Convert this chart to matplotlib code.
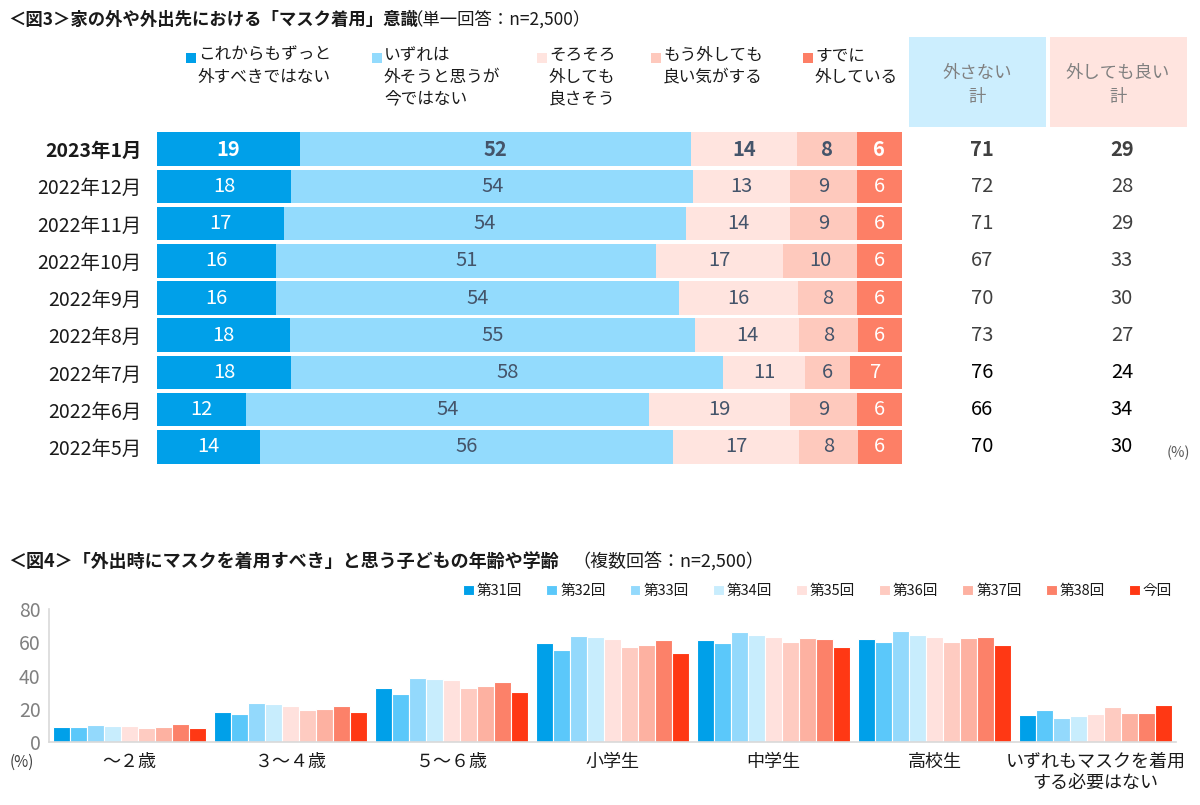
import matplotlib
matplotlib.use('Agg')
import matplotlib.pyplot as plt
from matplotlib.patches import Rectangle
import numpy as np

plt.rcParams['font.family'] = ['Noto Sans CJK JP', 'DejaVu Sans']

# ---------------- data: figure 3 ----------------
months = ['2023年1月', '2022年12月', '2022年11月', '2022年10月', '2022年9月',
          '2022年8月', '2022年7月', '2022年6月', '2022年5月']
s_never = [19, 18, 17, 16, 16, 18, 18, 12, 14]
s_someday = [52, 54, 54, 51, 54, 55, 58, 54, 56]
s_soon = [14, 13, 14, 17, 16, 14, 11, 19, 17]
s_ok = [8, 9, 9, 10, 8, 8, 6, 9, 8]
s_already = [6, 6, 6, 6, 6, 6, 7, 6, 6]
tot_keep = [71, 72, 71, 67, 70, 73, 76, 66, 70]
tot_remove = [29, 28, 29, 33, 30, 27, 24, 34, 30]
series3_names = ['これからもずっと\n外すべきではない', 'いずれは\n外そうと思うが\n今ではない',
                 'そろそろ\n外しても\n良さそう', 'もう外しても\n良い気がする', 'すでに\n外している']
series3_colors = ['#00A0E9', '#93DBFD', '#FFE4DF', '#FEC9BD', '#FD7F66']
series3_text = ['white', '#44546A', '#44546A', '#44546A', 'white']

# ---------------- data: figure 4 ----------------
categories = ['～２歳', '３～４歳', '５～６歳', '小学生', '中学生', '高校生',
              'いずれもマスクを着用\nする必要はない']
rounds = ['第31回', '第32回', '第33回', '第34回', '第35回', '第36回', '第37回', '第38回', '今回']
r31 = [9.2, 18.0, 32.3, 59.8, 61.4, 61.8, 16.5]
r32 = [9.2, 16.7, 29.0, 55.2, 59.8, 60.4, 19.0]
r33 = [10.2, 23.3, 38.3, 63.7, 66.0, 66.9, 14.7]
r34 = [9.6, 22.7, 37.7, 62.9, 64.5, 64.3, 15.5]
r35 = [9.6, 21.7, 37.1, 61.7, 63.0, 63.2, 17.0]
r36 = [8.2, 19.0, 32.7, 57.4, 60.2, 60.4, 21.0]
r37 = [9.0, 20.0, 33.9, 58.2, 62.4, 62.4, 17.7]
r38 = [10.8, 21.5, 36.1, 61.4, 62.2, 62.9, 17.7]
r_now = [8.6, 18.3, 29.9, 53.6, 57.0, 58.2, 22.5]
round_colors = ['#00A0E9', '#5BC8FA', '#93D9FC', '#C8EDFD', '#FFE1DD',
                '#FECBC1', '#FDB1A1', '#FC8169', '#FF3814']

W, H = 1200, 805
fig = plt.figure(figsize=(W / 100, H / 100), dpi=100)


def fx(x):
    return x / W


def fy(y):
    return 1 - y / H


# ================= figure 3 =================
fig.text(fx(8), fy(20), '＜図3＞家の外や外出先における「マスク着用」意識', fontsize=12.5,
         fontweight='bold', va='center', ha='left', color='#1a1a1a')
fig.text(fx(406), fy(21), '（単一回答：n=2,500）', fontsize=12.5, va='center', ha='left',
         color='#1a1a1a')

ax1 = fig.add_axes([fx(157), fy(465.5), fx(902) - fx(157), fy(130.5) - fy(465.5)])
series3 = [s_never, s_someday, s_soon, s_ok, s_already]
arr = np.array(series3, dtype=float)
norm = arr / arr.sum(axis=0) * 100
ypos = np.arange(len(months))
left = np.zeros(len(months))
for k in range(len(series3)):
    ax1.barh(ypos, norm[k], left=left, height=0.9, color=series3_colors[k], linewidth=0)
    for i in range(len(months)):
        ax1.text(left[i] + norm[k][i] / 2, ypos[i], str(series3[k][i]), ha='center', va='center',
                 fontsize=14.5, color=series3_text[k],
                 fontweight='bold' if i == 0 else 'normal')
    left = left + norm[k]
ax1.set_xlim(0, 100)
ax1.set_ylim(len(months) - 0.5, -0.5)
ax1.set_yticks(ypos)
ax1.set_yticklabels(months, fontsize=14)
for i, lab in enumerate(ax1.get_yticklabels()):
    if i == 0:
        lab.set_fontweight('bold')
    lab.set_color('#1a1a1a')
ax1.tick_params(axis='y', length=0, pad=11)
ax1.set_xticks([])
for sp in ax1.spines.values():
    sp.set_visible(False)

tr = ax1.get_yaxis_transform()
xk = (982 - 157) / (902 - 157)
xr = (1122 - 157) / (902 - 157)
for i in range(len(months)):
    col = '#404040' if i < 6 else '#000000'
    fw = 'bold' if i == 0 else 'normal'
    ax1.text(xk, ypos[i], str(tot_keep[i]), transform=tr, ha='center', va='center',
             fontsize=14.5, color=col, fontweight=fw)
    ax1.text(xr, ypos[i], str(tot_remove[i]), transform=tr, ha='center', va='center',
             fontsize=14.5, color=col, fontweight=fw)
fig.text(fx(1178), fy(453), '(%)', fontsize=10.5, ha='center', va='center', color='#595959')

# header boxes
fig.add_artist(Rectangle((fx(909), fy(127)), fx(1046) - fx(909), fy(37) - fy(127),
                         transform=fig.transFigure, facecolor='#CCEEFE', edgecolor='none'))
fig.add_artist(Rectangle((fx(1050), fy(127)), fx(1187) - fx(1050), fy(37) - fy(127),
                         transform=fig.transFigure, facecolor='#FFE4DF', edgecolor='none'))
fig.text(fx(977), fy(85), '外さない\n計', fontsize=12.5, ha='center', va='center',
         color='#808080', linespacing=1.45)
fig.text(fx(1118), fy(85), '外しても良い\n計', fontsize=12.5, ha='center', va='center',
         color='#808080', linespacing=1.45)

# legend for figure 3
leg_sq_x = [186, 372, 537, 651, 803]
for k in range(len(series3_names)):
    fig.add_artist(Rectangle((fx(leg_sq_x[k]), fy(63)), fx(10), 10 / H,
                             transform=fig.transFigure, facecolor=series3_colors[k],
                             edgecolor='none'))
    fig.text(fx(leg_sq_x[k] + 12), fy(47), series3_names[k], fontsize=12, ha='left', va='top',
             color='#1a1a1a', linespacing=1.35)

# ================= figure 4 =================
fig.text(fx(8), fy(561), '＜図4＞「外出時にマスクを着用すべき」と思う子どもの年齢や学齢',
         fontsize=13, fontweight='bold', va='center', ha='left', color='#1a1a1a')
fig.text(fx(572), fy(562), '（複数回答：n=2,500）', fontsize=13, va='center', ha='left',
         color='#1a1a1a')

ax2 = fig.add_axes([fx(49), fy(742), fx(1176) - fx(49), fy(609) - fy(742)])
rvals = [r31, r32, r33, r34, r35, r36, r37, r38, r_now]
xg = np.arange(len(categories))
bw = 0.106
handles = []
for j, vals in enumerate(rvals):
    b = ax2.bar(xg + (j - 4) * bw, vals, width=bw, color=round_colors[j], edgecolor='white',
                linewidth=0.8, label=rounds[j])
    handles.append(b)
ax2.set_xlim(-0.5, len(categories) - 0.5)
ax2.set_ylim(0, 80)
ax2.set_yticks([0, 20, 40, 60, 80])
ax2.tick_params(axis='y', length=0, labelsize=14, labelcolor='#808080', pad=6)
ax2.tick_params(axis='x', length=0, pad=8)
ax2.set_xticks(xg)
ax2.set_xticklabels(categories, fontsize=13, color='#1a1a1a', linespacing=1.2)
for sp in ['top', 'right']:
    ax2.spines[sp].set_visible(False)
ax2.spines['left'].set_color('#D9D9D9')
ax2.spines['bottom'].set_color('#D9D9D9')
ax2.spines['left'].set_linewidth(1.2)
ax2.spines['bottom'].set_linewidth(1.2)
fig.text(fx(22), fy(762), '(%)', fontsize=11, ha='center', va='center', color='#404040')

leg = fig.legend(handles=handles, labels=rounds, loc='center right',
                 bbox_to_anchor=(fx(1172), fy(591)), ncol=9, frameon=False, fontsize=10.5,
                 handlelength=0.75, handleheight=0.75, handletextpad=0.2, columnspacing=1.65,
                 borderaxespad=0, borderpad=0)
for t in leg.get_texts():
    t.set_color('#1a1a1a')

fig.savefig('out.png', dpi=100)
